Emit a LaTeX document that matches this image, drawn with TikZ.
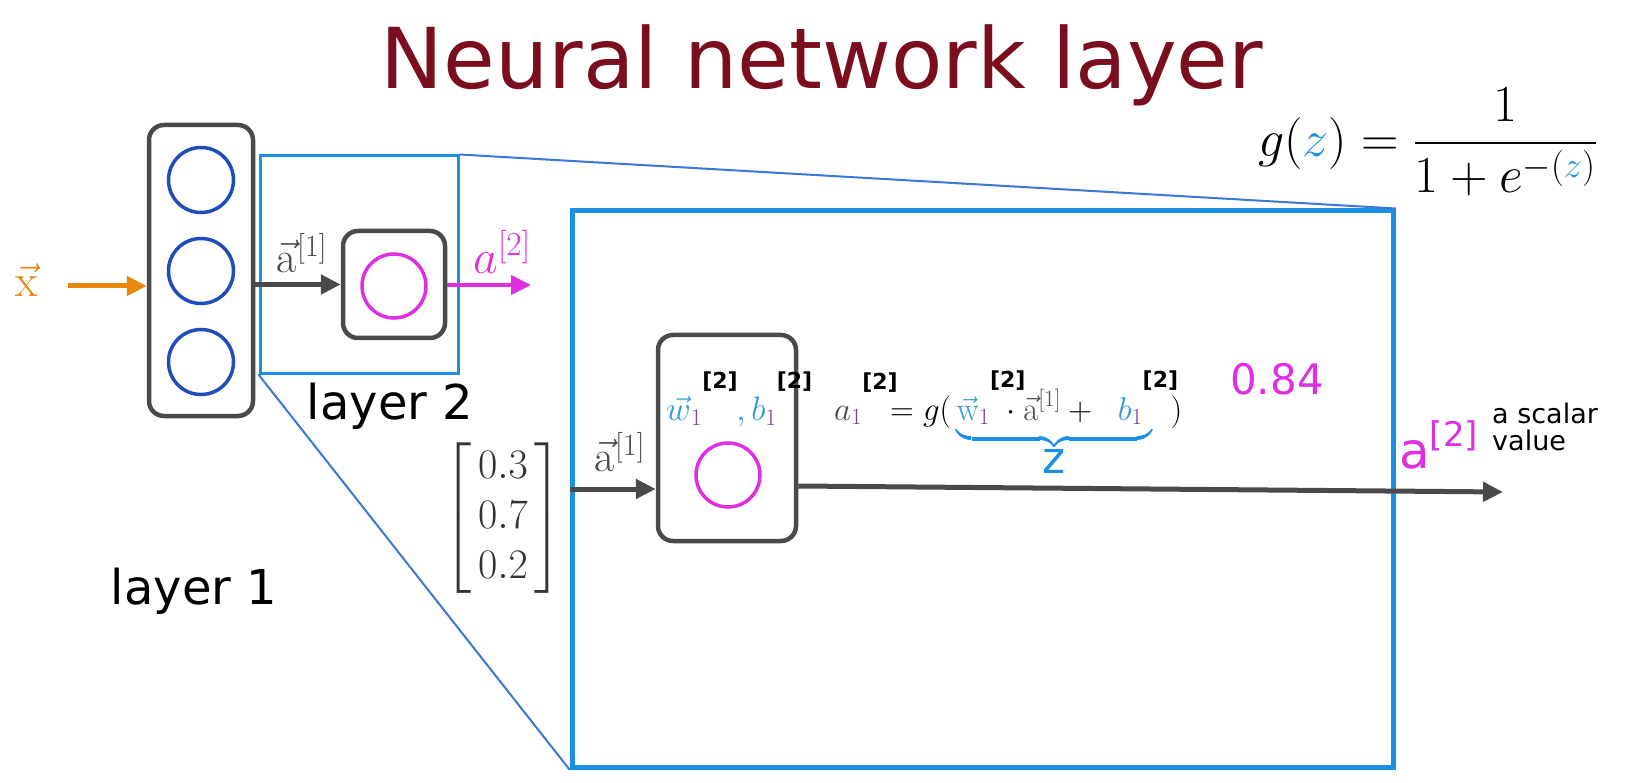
\RequirePackage{fix-cm}
\documentclass[tikz,border=0pt]{standalone}
\usepackage{amsmath,amssymb}
\usepackage{xcolor}
\usepackage{fontspec}
\usepackage{tikz}
\usetikzlibrary{arrows.meta,positioning}
\newfontfamily\dvsans{DejaVu Sans}
\newcommand{\twosup}{\makebox[9pt][l]{\raisebox{19pt}{\dvsans\bfseries\fontsize{22}{22}\selectfont[2]}}}

\begin{document}
\begin{tikzpicture}[x=1pt,y=-1pt,
  cell/.style={draw=boxgray,line width=4.5pt,rounded corners=15pt,inner sep=0pt},
  unit/.style={circle,line width=3.5pt,minimum size=65pt,inner sep=0pt},
  frame/.style={draw=framecyan,inner sep=0pt},
  feed/.style={line width=5pt,-{Triangle[length=20pt,width=19pt]}},
  hand/.style={font=\dvsans\fontsize{#1}{#1}\selectfont}]
% Define scheme colours
\definecolor{titlered}{HTML}{7A0E1F}
\definecolor{boxgray}{HTML}{4A4A4A}
\definecolor{framecyan}{HTML}{1A8FE3}
\definecolor{zoomblue}{HTML}{3B77D9}
\definecolor{unitblue}{HTML}{1F4EBA}
\definecolor{unitpink}{HTML}{E02FE0}
\definecolor{inorange}{HTML}{E8870E}
\definecolor{wblue}{HTML}{2E9AD8}
\definecolor{subpurple}{HTML}{7A3E9E}
\definecolor{ink}{HTML}{333333}

\useasboundingbox[fill=white] (0,0) rectangle (1632,783);

% Title
\node[hand=84,text=titlered,anchor=base] (title) at (822,89) {Neural network layer};

% Sigmoid (top right)
\node[anchor=west,inner sep=0pt,font=\fontsize{52}{56}\selectfont] (sigmoid) at (1258,142)
  {$g({\color{framecyan}z}) = \dfrac{1}{1+e^{-({\color{framecyan}z})}}$};

% Layer 1 (left section)
\node[cell,minimum width=104pt,minimum height=291pt] (l1box) at (201,270.5) {};
\node[unit,draw=unitblue] (u1) at (201,180) {};
\node[unit,draw=unitblue] (u2) at (201,271) {};
\node[unit,draw=unitblue] (u3) at (201,362) {};
\node[hand=48] (l1lab) at (194,591) {layer 1};

\node[text=inorange,font=\fontsize{46}{46}\selectfont] (xlab) at (27,280) {$\vec{\mathrm{x}}$};
\coordinate (xin) at (68,286);
\draw[feed,inorange] (xin) -- (l1box.west |- xin);

% Layer 2 (small view)
\node[frame,line width=3pt,minimum width=198pt,minimum height=217pt] (zoom) at (359,264.5) {};
\node[cell,minimum width=102pt,minimum height=107pt] (n2box) at (394,284.5) {};
\node[unit,draw=unitpink,minimum size=64pt] (n2) at (394,286) {};
\draw[feed,boxgray] (l1box.east |- n2box) -- (n2box.west);
\node[text=boxgray,font=\fontsize{44}{44}\selectfont] (a1lab) at (302,253) {$\vec{\mathrm{a}}^{[1]}$};
\coordinate (a2tip) at (531,285);
\draw[feed,unitpink,line width=4pt] (n2box.east |- a2tip) -- (a2tip);
\node[text=unitpink,font=\fontsize{48}{48}\selectfont] (a2lab) at (502,252) {$a^{[2]}$};
\node[hand=48] (l2lab) at (390,406) {layer 2};

% Layer 2 (zoomed view)
\node[frame,line width=5pt,minimum width=821pt,minimum height=556pt] (big) at (982.5,489) {};
\draw[zoomblue,line width=2pt] (zoom.north east) -- (big.north east);
\draw[zoomblue,line width=2pt] (zoom.south west) -- (big.south west);

\node[text=ink,font=\fontsize{42}{50}\selectfont] (avec) at (503,518)
  {$\begin{bmatrix}\,0.3\,\\\,0.7\,\\\,0.2\,\end{bmatrix}$};

\node[cell,minimum width=138pt,minimum height=206pt] (inbox) at (727,438) {};
\node[unit,draw=unitpink,minimum size=64pt] (inunit) at (728,475) {};
\node[anchor=base west,inner sep=0pt,font=\fontsize{34}{34}\selectfont] (wb) at (666,420)
  {${\color{wblue}\vec{w}}_{\color{subpurple}1}^{\twosup}\;\;\,{\color{wblue},b}_{\color{subpurple}1}^{\twosup}$};
\draw[feed,boxgray] (big.west) -- (inbox.west |- big.west);
\node[text=boxgray,font=\fontsize{44}{44}\selectfont] (a1big) at (620,452) {$\vec{\mathrm{a}}^{[1]}$};

\node[anchor=base west,inner sep=0pt,font=\fontsize{33}{33}\selectfont] (formula) at (834,420)
  {${\color{boxgray}a}_{\color{subpurple}1}^{\twosup}\; = g(\,{\color{framecyan}\underbrace{\color{black}\rule[-14pt]{0pt}{14pt}{\color{wblue}\vec{\mathrm{w}}}_{\color{subpurple}1}^{\twosup}\cdot{\color{boxgray}\vec{\mathrm{a}}^{[1]}} + \;\;{\color{wblue}b}_{\color{subpurple}1}^{\twosup}}_{\hbox{\dvsans\fontsize{44}{44}\selectfont z}}}\;\;)$};
\node[hand=42,text=unitpink] (val) at (1277,379) {0.84};

\coordinate (outtip) at (1503,492);
\draw[feed,boxgray] ([yshift=-48pt]inbox.east) -- (outtip);
\node[hand=50,text=unitpink,anchor=base west,inner sep=0pt] (a2big) at (1399,468)
  {a\raisebox{22pt}{\fontsize{34}{34}\selectfont[2]}};
\node[hand=27,anchor=west,align=left,inner sep=0pt] (scalar) at (1492,427) {a scalar\\value};
\end{tikzpicture}
\end{document}
